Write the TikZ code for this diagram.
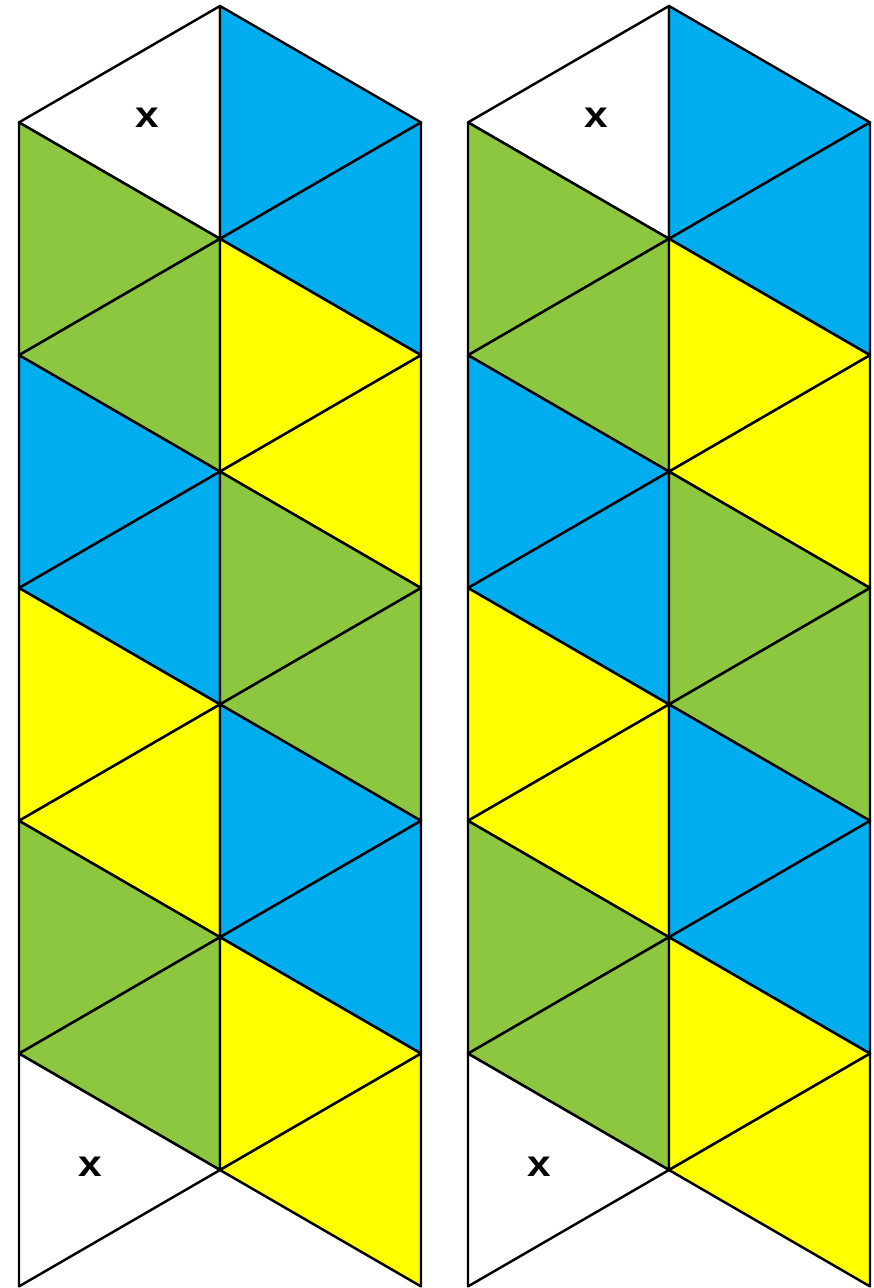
\documentclass[tikz,border=0pt]{standalone}
\usepackage{fontspec}
\setsansfont{Liberation Sans}
\definecolor{flexblue}{HTML}{00ADEF}
\definecolor{flexgreen}{HTML}{8DC63F}
\definecolor{flexyellow}{HTML}{FFFF00}
\begin{document}
\begin{tikzpicture}[x=0.02cm, y=-0.02cm, line join=round,
  face/.style={draw=black, line width=1.4pt},
  crossmark/.style={font=\sffamily\bfseries\fontsize{21}{21}\selectfont, inner sep=0pt, xscale=1.15}]
\useasboundingbox (0,0) rectangle (874,1288);

% two identical strips
\foreach \s in {0,449} {
\begin{scope}[shift={(\s,0)}]
\foreach \k/\ca/\cb/\cr in {0/flexgreen/white/flexblue,
                             1/flexblue/flexgreen/flexyellow,
                             2/flexyellow/flexblue/flexgreen,
                             3/flexgreen/flexyellow/flexblue,
                             4/white/flexgreen/flexyellow} {
  \pgfmathsetmacro\ma{6+232.8*\k}
  \pgfmathsetmacro\mb{6+232.8*(\k+1)}
  \pgfmathsetmacro\la{122.4+232.8*\k}
  \pgfmathsetmacro\lb{122.4+232.8*(\k+1)}
  % left column
  \filldraw[face, fill=\cb] (220,\ma) -- (220,\mb) -- (19,\la) -- cycle;
  \filldraw[face, fill=\ca] (19,\la) -- (19,\lb) -- (220,\mb) -- cycle;
  % right column
  \filldraw[face, fill=\cr] (220,\ma) -- (220,\mb) -- (421,\la) -- cycle;
  \filldraw[face, fill=\cr] (421,\la) -- (421,\lb) -- (220,\mb) -- cycle;
}
\node[crossmark] (top\s) at (147,118) {x};
\node[crossmark] (bot\s) at (90,1167) {x};
\end{scope}
}
\end{tikzpicture}
\end{document}
